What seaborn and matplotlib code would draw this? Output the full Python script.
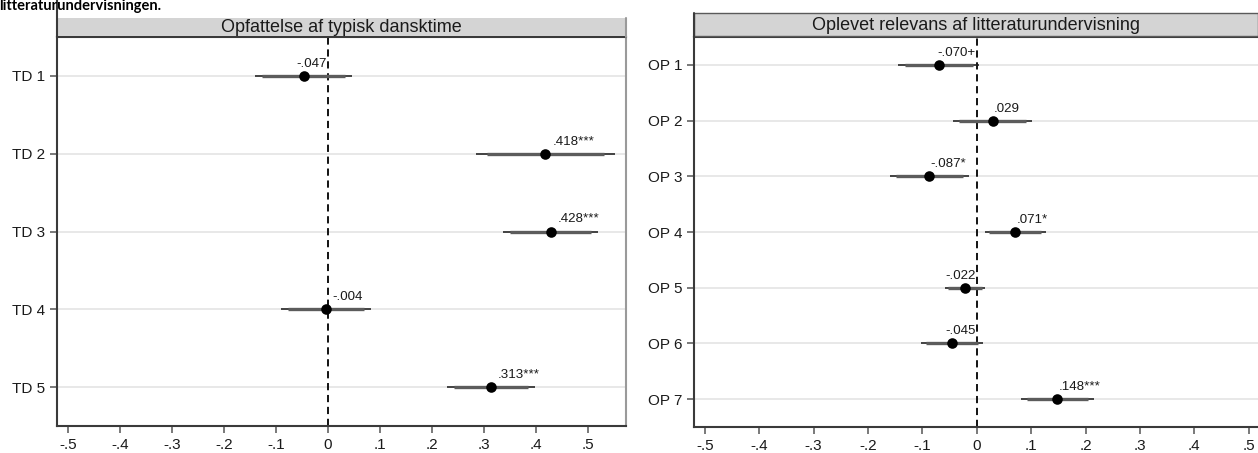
import numpy as np
import pandas as pd
import matplotlib
matplotlib.use("Agg")
import matplotlib.pyplot as plt
from matplotlib.patches import Rectangle
from matplotlib.lines import Line2D
import seaborn as sns

# Opfattelse af typisk dansktime
td_items = ["TD 1", "TD 2", "TD 3", "TD 4", "TD 5"]
td_coef = [-0.047, 0.418, 0.428, -0.004, 0.313]
td_se = [0.048, 0.068, 0.047, 0.044, 0.043]
td_sig = ["", "***", "***", "", "***"]

# Oplevet relevans af litteraturundervisning
op_items = ["OP 1", "OP 2", "OP 3", "OP 4", "OP 5", "OP 6", "OP 7"]
op_coef = [-0.070, 0.029, -0.087, 0.071, -0.022, -0.045, 0.148]
op_se = [0.038, 0.037, 0.037, 0.029, 0.019, 0.029, 0.034]
op_sig = ["+", "", "*", "*", "", "", "***"]

x_ticks = [-0.5, -0.4, -0.3, -0.2, -0.1, 0.0, 0.1, 0.2, 0.3, 0.4, 0.5]

sns.set_theme(style="white")
plt.rcParams["font.family"] = ["Liberation Sans", "DejaVu Sans"]

W, H = 1258, 453
fig = plt.figure(figsize=(W / 100, H / 100), dpi=100)
fig.patch.set_facecolor("white")


def px_rect(x0, y0, x1, y1):
    """Figure-fraction rectangle from pixel coordinates (origin top-left)."""
    return [x0 / W, 1 - y1 / H, (x1 - x0) / W, (y1 - y0) / H]


def stata_fmt(v):
    if abs(v) < 1e-12:
        return "0"
    s = f"{v:.3f}" if abs(v * 10 - round(v * 10)) > 1e-9 else f"{v:.1f}"
    return s.replace("0.", ".", 1)


def coef_panel(ax, items, coef, se, sig, xlim, label_dx):
    df = pd.DataFrame({"item": items, "coef": coef, "se": se, "sig": sig})
    df["pos"] = np.arange(len(df))
    lo95 = df.coef - 1.96 * df.se
    hi95 = df.coef + 1.96 * df.se
    lo90 = df.coef - 1.645 * df.se
    hi90 = df.coef + 1.645 * df.se

    ax.axvline(0, color="black", lw=1.3, dashes=(4.0, 2.6), zorder=2)
    ax.hlines(df.pos, lo95, hi95, color="#1e1e1e", lw=1.15, zorder=3)
    ax.hlines(df.pos, lo90, hi90, color="#5c5c5c", lw=2.4, zorder=4)
    sns.scatterplot(data=df, x="coef", y="pos", ax=ax, color="black",
                    s=58, linewidth=0, zorder=6, legend=False)

    ax.set_xlim(*xlim)
    ax.set_ylim(len(df) - 0.5, -0.5)
    ax.set_yticks(df.pos)
    ax.set_yticklabels(df.item)
    ax.set_xticks(x_ticks)
    ax.set_xticklabels([stata_fmt(t) for t in x_ticks])
    ax.set_xlabel("")
    ax.set_ylabel("")
    ax.yaxis.grid(True, color="#e2e2e2", lw=1.1, zorder=0)
    ax.xaxis.grid(False)
    ax.set_axisbelow(True)
    ax.tick_params(axis="both", which="major", bottom=True, left=True,
                   length=5, width=1.1, color="#555555", labelsize=11,
                   labelcolor="#1a1a1a")
    ax.tick_params(axis="x", pad=3.5)
    ax.tick_params(axis="y", pad=3.5)
    for side in ("left", "bottom", "top"):
        ax.spines[side].set_color("#3a3a3a")
        ax.spines[side].set_linewidth(1.5)

    texts = []
    for _, r in df.iterrows():
        t = ax.annotate(stata_fmt(r.coef) + r.sig, xy=(r.coef, r.pos),
                        xytext=(label_dx, 6.5), textcoords="offset points",
                        ha="left", va="baseline", fontsize=9.6,
                        color="#1a1a1a", zorder=7)
        texts.append((t, r))
    return texts


ax_l = fig.add_axes(px_rect(57, 37, 626, 426))
ax_r = fig.add_axes(px_rect(694, 37, 1258, 427))

lab_l = coef_panel(ax_l, td_items, td_coef, td_se, td_sig, (-0.521, 0.573), 5.0)
lab_r = coef_panel(ax_r, op_items, op_coef, op_se, op_sig, (-0.520, 0.517), 0.8)

ax_l.spines["right"].set_color("#9a9a9a")
ax_l.spines["right"].set_linewidth(1.5)
ax_r.spines["right"].set_visible(False)

# Value labels that would run across the reference line end just left of it
fig.canvas.draw()
renderer = fig.canvas.get_renderer()
for ax, labs in ((ax_l, lab_l), (ax_r, lab_r)):
    zero_px = ax.transData.transform((0, 0))[0]
    for t, r in labs:
        bb = t.get_window_extent(renderer)
        if bb.x0 < zero_px < bb.x1:
            t.xy = (0, r.pos)
            t.set_position((-1.0, 6.5))
            t.set_ha("right")

# Panel header strips
strip_kw = dict(transform=fig.transFigure, facecolor="#d4d4d4", zorder=0)
l0 = px_rect(57, 18, 626, 36)
fig.patches.append(Rectangle((l0[0], l0[1]), l0[2], l0[3], edgecolor="none", **strip_kw))
r0 = px_rect(694, 13, 1258, 36)
fig.patches.append(Rectangle((r0[0], r0[1]), r0[2], r0[3], edgecolor="#5a5a5a",
                             linewidth=1.0, **strip_kw))

def fig_line(x0, y0, x1, y1, color, lw):
    fig.lines.append(Line2D([x0 / W, x1 / W], [1 - y0 / H, 1 - y1 / H],
                            transform=fig.transFigure, color=color, lw=lw))

fig_line(57, 0, 57, 37, "#3a3a3a", 1.5)
fig_line(626, 18, 626, 37, "#9a9a9a", 1.5)
fig_line(694, 13, 694, 37, "#3a3a3a", 1.5)

fig.text((57 + 626) / 2 / W, 1 - 27.5 / H, "Opfattelse af typisk dansktime",
         ha="center", va="center", fontsize=13, color="#1a1a1a")
fig.text((694 + 1258) / 2 / W, 1 - 25 / H, "Oplevet relevans af litteraturundervisning",
         ha="center", va="center", fontsize=13, color="#1a1a1a")

fig.text(-1 / W, 1 - 10 / H, "litteraturundervisningen.", ha="left", va="baseline",
         fontsize=10.5, fontweight="bold", family=["Lato", "DejaVu Sans"], color="black")

fig.savefig("out.png", dpi=100, facecolor="white")
